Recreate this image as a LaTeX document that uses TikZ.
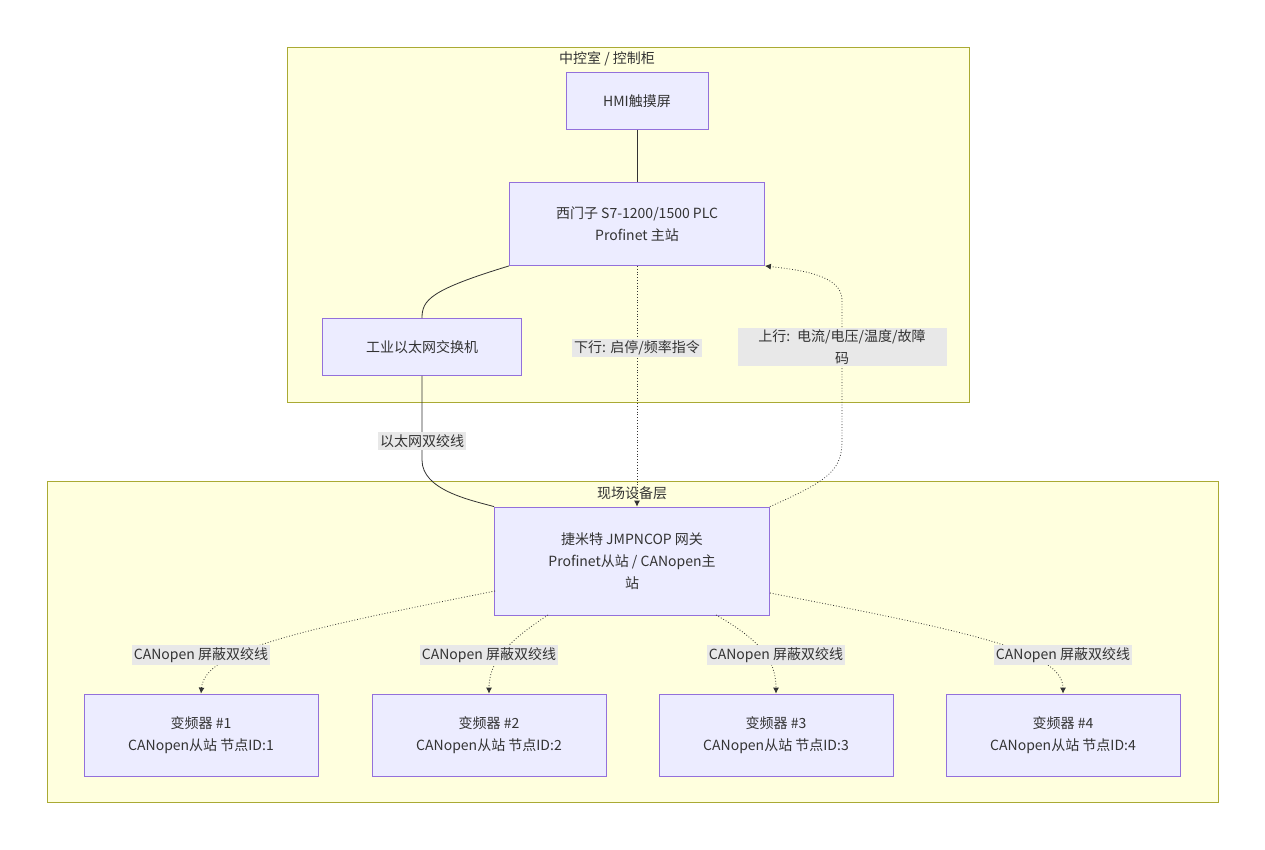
\documentclass[tikz,border=0pt]{standalone}
\usepackage{fontspec}
\setmainfont{Noto Sans CJK SC}
\usetikzlibrary{arrows.meta}
\definecolor{clf}{HTML}{FFFFDE}\definecolor{cls}{HTML}{AAAA33}
\definecolor{ndf}{HTML}{ECECFF}\definecolor{nds}{HTML}{9370DB}
\definecolor{lbl}{HTML}{E8E8E8}\definecolor{ln}{HTML}{333333}
\begin{document}
\begin{tikzpicture}[x=1pt,y=-1pt,
  cl/.style={draw=cls,fill=clf,line width=0.8pt},
  nd/.style={draw=nds,fill=ndf,line width=0.8pt,align=center,font=\fontsize{14}{22}\selectfont,text=ln},
  lb/.style={fill=lbl,inner sep=2pt,align=center,font=\fontsize{14}{22}\selectfont,text=ln},
  tt/.style={font=\fontsize{14}{18}\selectfont,text=ln},
  e/.style={draw=ln,line width=0.8pt},
  d/.style={draw=ln,line width=0.8pt,dotted,-{Latex[length=6pt,width=6pt]}}]
\useasboundingbox (0,0) rectangle (1265,850);
\fill[white] (0,0) rectangle (1265,850);
\draw[cl] (287,47) rectangle (969,402);
\node[tt] (t1) at (607,59) {中控室 / 控制柜};
\draw[cl] (47,481) rectangle (1218,802);
\node[tt] (t2) at (632,493) {现场设备层};
\node[nd,minimum width=142pt,minimum height=57pt] (hmi) at (637,101) {HMI触摸屏};
\node[nd,minimum width=255pt,minimum height=83pt] (plc) at (637,224) {西门子 S7-1200/1500 PLC\\Profinet 主站};
\node[nd,minimum width=199pt,minimum height=57pt] (sw) at (422,347) {工业以太网交换机};
\node[nd,minimum width=275pt,minimum height=108pt] (gw) at (632,561) {捷米特 JMPNCOP 网关\\Profinet从站 / CANopen主\\站};
\foreach \i/\x in {1/201,2/489,3/776,4/1063}
  \node[nd,minimum width=234pt,minimum height=82pt] (v\i) at (\x,735) {变频器 \#\i\\CANopen从站 节点ID:\i};
\draw[e] (hmi) -- (plc);
\draw[e] (plc.south west) .. controls (430,290) and (422,300) .. (sw.north);
\draw[e] (sw.south) -- (422,460) .. controls (422,490) and (470,500) .. (gw.north west);
\node[lb] at (422,441) {以太网双绞线};
\draw[d] (plc.south) -- (gw.north -| plc.south);
\node[lb] at (637,348) {下行: 启停/频率指令};
\draw[d] (gw.north east) .. controls (830,480) and (842,470) .. (842,440) -- (842,300) .. controls (842,275) and (800,270) .. (plc.south east);
\node[lb,text width=205pt] at (842,347) {上行: 电流/电压/温度/故障\\码};
\draw[d] (495,591) .. controls (300,630) and (205,650) .. (v1.north);
\draw[d] (548,615) .. controls (510,640) and (489,660) .. (v2.north);
\draw[d] (716,615) .. controls (760,640) and (776,660) .. (v3.north);
\draw[d] (770,593) .. controls (960,630) and (1063,650) .. (v4.north);
\foreach \x in {201,489,776,1063} \node[lb] at (\x,655) {CANopen 屏蔽双绞线};
\end{tikzpicture}
\end{document}
